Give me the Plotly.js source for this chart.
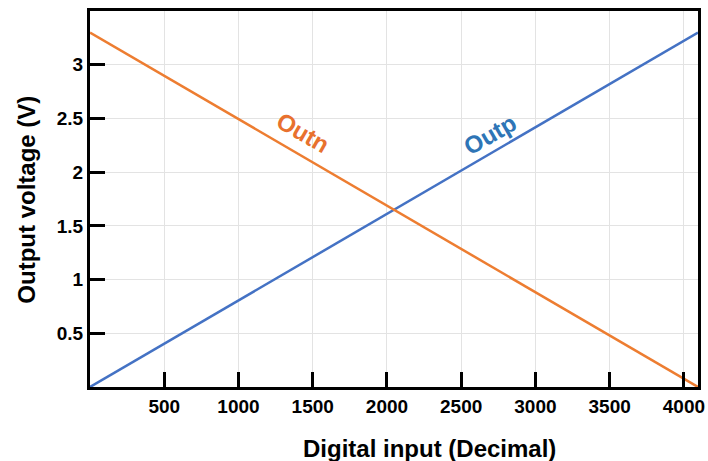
<!DOCTYPE html>
<html>
<head>
<meta charset="utf-8">
<script src="https://cdn.plot.ly/plotly-3.0.1.min.js"></script>
<style>html,body{margin:0;padding:0;background:#fff;}#chart{width:708px;height:461px;}</style>
</head>
<body>
<div id="chart"></div>
<script>
var codes = [0, 4095];
var outp = [0, 3.3];
var outn = [3.3, 0];
var xTicks = [500, 1000, 1500, 2000, 2500, 3000, 3500, 4000];
var yTicks = [0.5, 1, 1.5, 2, 2.5, 3];
var yTickText = ['0.5', '1', '1.5', '2', '2.5', '3'];
var xTitle = 'Digital input (Decimal)';
var yTitle = 'Output voltage (V)';
var labels = [
  {name: 'Outn', x: 1434, y: 2.37},
  {name: 'Outp', x: 2694, y: 2.35}
];

var FONT = 'Liberation Sans, Arial, sans-serif';
var traces = [
  {x: codes, y: outp, mode: 'lines', line: {color: '#4472C4', width: 2.5}, name: 'Outp', hoverinfo: 'none'},
  {x: codes, y: outn, mode: 'lines', line: {color: '#ED7D31', width: 2.5}, name: 'Outn', hoverinfo: 'none'}
];

var layout = {
  width: 708, height: 461,
  margin: {l: 90, r: 10, t: 11, b: 74},
  paper_bgcolor: '#fff', plot_bgcolor: '#fff',
  showlegend: false,
  font: {family: FONT, color: '#000'},
  xaxis: {
    range: [0, 4095], tickvals: xTicks, ticktext: xTicks.map(String),
    ticks: 'inside', ticklen: 15, tickwidth: 3, tickcolor: '#000',
    showline: true, linewidth: 3, linecolor: '#000', mirror: true,
    showgrid: true, gridcolor: '#e3e3e3', gridwidth: 1, zeroline: false,
    tickfont: {family: FONT, size: 19, weight: 700, color: '#000'}
  },
  yaxis: {
    range: [0, 3.5], tickvals: yTicks, ticktext: yTickText,
    ticks: 'inside', ticklen: 15, tickwidth: 3, tickcolor: '#000',
    showline: true, linewidth: 3, linecolor: '#000', mirror: true,
    showgrid: true, gridcolor: '#e3e3e3', gridwidth: 1, zeroline: false,
    tickfont: {family: FONT, size: 19, weight: 700, color: '#000'}
  },
  annotations: [
    {x: labels[0].x, y: labels[0].y, text: labels[0].name, showarrow: false, textangle: 30,
     font: {family: FONT, size: 24, weight: 700, color: '#E8712E'}},
    {x: labels[1].x, y: labels[1].y, text: labels[1].name, showarrow: false, textangle: -30,
     font: {family: FONT, size: 24, weight: 700, color: '#2E75B6'}},
    {xref: 'paper', yref: 'paper', x: 0.559, y: -0.1223, xanchor: 'center', yanchor: 'top',
     text: xTitle, showarrow: false, font: {family: FONT, size: 24, weight: 700, color: '#000'}},
    {xref: 'paper', yref: 'paper', x: -0.1044, y: 0.497, xanchor: 'center', yanchor: 'middle',
     text: yTitle, textangle: -90, showarrow: false, font: {family: FONT, size: 24, weight: 700, color: '#000'}}
  ]
};

Plotly.newPlot('chart', traces, layout, {displayModeBar: false, staticPlot: true});
</script>
</body>
</html>
